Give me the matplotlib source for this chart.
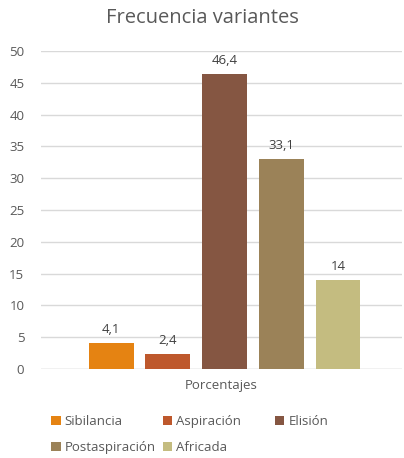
import matplotlib.pyplot as plt
from matplotlib.patches import Patch

categories = ["Sibilancia", "Aspiración", "Elisión", "Postaspiración", "Africada"]
values = [4.1, 2.4, 46.4, 33.1, 14]
colors = ["#E58312", "#BE582C", "#855642", "#9B8258", "#C4BC80"]
y_ticks = [0, 5, 10, 15, 20, 25, 30, 35, 40, 45, 50]

plt.rcParams["font.family"] = ["Open Sans", "DejaVu Sans"]
text_color = "#595959"

fig = plt.figure(figsize=(4.04, 4.58), dpi=100)
ax = fig.add_axes([0.1015, 0.1943, 0.8935, 0.6943])

x = list(range(len(categories)))
bars = ax.bar(x, values, width=0.79, color=colors, zorder=3)
for rect, v in zip(bars, values):
    label = f"{v:g}".replace(".", ",")
    ax.annotate(label, (rect.get_x() + rect.get_width() / 2, v),
                xytext=(0, 5), textcoords="offset points",
                ha="center", va="bottom", fontsize=9.5, color="#404040")

ax.set_xlim(-1.237, 5.13)
ax.set_ylim(0, 50)
ax.set_yticks(y_ticks)
ax.yaxis.grid(True, color="#D9D9D9", linewidth=1, zorder=0)
ax.set_xticks([])
for s in ax.spines.values():
    s.set_visible(False)
ax.tick_params(axis="y", length=0, labelsize=9.5, labelcolor=text_color, pad=12)
ax.axhline(0, color="#D9D9D9", linewidth=1, zorder=2)

ax.set_xlabel("Porcentajes", fontsize=9.5, color=text_color, labelpad=7)
fig.suptitle("Frecuencia variantes", fontsize=14.5, color=text_color, y=0.983)

# Excel-style legend: fixed-width columns, filled row by row
columns = [[0, 3], [1, 4], [2]]
col_x = [0.114, 0.391, 0.668]
for idx, cx in zip(columns, col_x):
    handles = [Patch(facecolor=colors[i], label=categories[i]) for i in idx]
    fig.legend(handles=handles, loc="upper left", bbox_to_anchor=(cx, 0.105),
               frameon=False, fontsize=9.5, labelcolor=text_color,
               handlelength=0.7, handleheight=0.7, handletextpad=0.3,
               labelspacing=1.0, borderaxespad=0)

fig.savefig("out.png", dpi=100)
